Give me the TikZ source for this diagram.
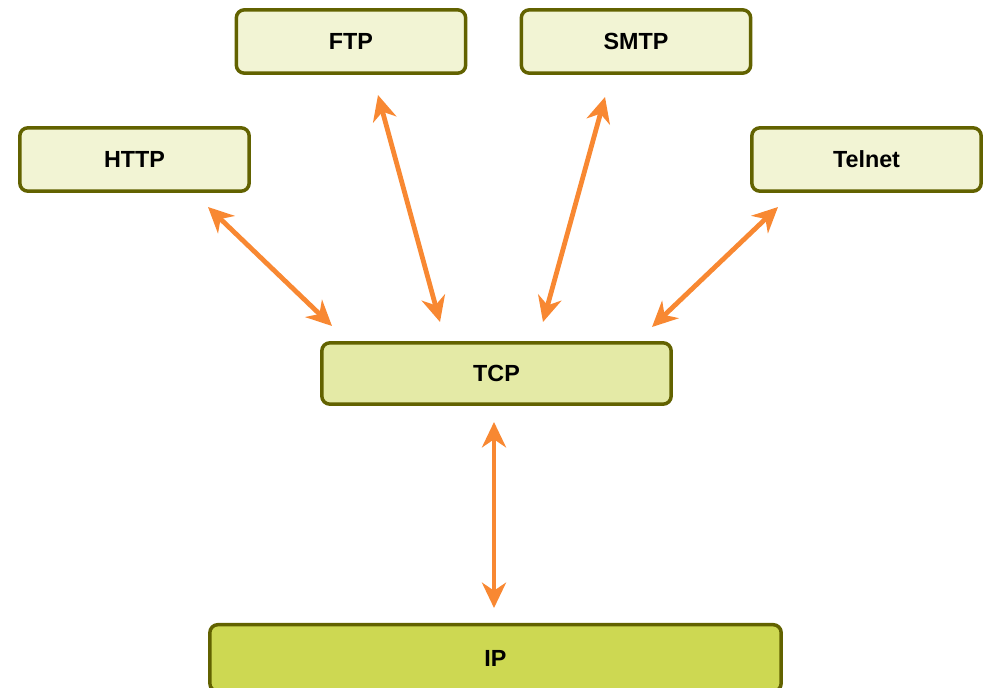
\documentclass[tikz,border=0pt]{standalone}
\usepackage{fontspec}
\setmainfont{Liberation Sans}
\usetikzlibrary{arrows.meta}

\definecolor{boxline}{RGB}{98,98,0}
\definecolor{appfill}{RGB}{242,244,212}
\definecolor{tcpfill}{RGB}{228,234,166}
\definecolor{ipfill}{RGB}{205,216,82}
\definecolor{linkorange}{RGB}{248,136,50}

\tikzset{every picture/.style={line width=0.75pt}}
\tikzset{
  layerbox/.style={draw=boxline, line width=2.6pt, rounded corners=6pt,
    font=\fontsize{17.5}{20}\selectfont\bfseries, inner sep=0pt},
  appbox/.style={layerbox, fill=appfill, minimum width=172pt, minimum height=47.5pt},
  link/.style={draw=linkorange, line width=3.6pt,
    {Stealth[length=19pt,width=18pt,inset=6pt]}-{Stealth[length=19pt,width=18pt,inset=6pt]}}
}

\begin{document}
\begin{tikzpicture}[x=0.75pt,y=0.75pt,yscale=-1,xscale=1]
\useasboundingbox (0,0) rectangle (988,688);

%Shape: Rectangle [application layer]
\node [appbox] (http) at (134.5,159.5) {HTTP};
\node [appbox] (ftp) at (351,41.5) {FTP};
\node [appbox] (smtp) at (636,41.5) {SMTP};
\node [appbox] (telnet) at (866.5,159.5) {Telnet};

%Shape: Rectangle [transport layer]
\node [layerbox, fill=tcpfill, minimum width=262pt, minimum height=46pt] (tcp) at (496.5,373.5) {TCP};

%Shape: Rectangle [internet layer]
\node [layerbox, fill=ipfill, minimum width=428.5pt, minimum height=50pt] (ip) at (495.5,658) {IP};

%Straight Lines [apps to tcp]
\draw [link] ([shift={(73.5,47.5)}]http.center) -- ([shift={(-164.5,-47.5)}]tcp.center);
\draw [link] ([shift={(27,53.5)}]ftp.center) -- ([shift={(-56.5,-51.5)}]tcp.center);
\draw [link] ([shift={(-31,55.5)}]smtp.center) -- ([shift={(46.5,-51.5)}]tcp.center);
\draw [link] ([shift={(-88.5,47.5)}]telnet.center) -- ([shift={(155.5,-46.5)}]tcp.center);

%Straight Lines [tcp to ip]
\draw [link] ([shift={(-2.5,48.5)}]tcp.center) -- ([shift={(-1.5,-50)}]ip.center);

\end{tikzpicture}
\end{document}
